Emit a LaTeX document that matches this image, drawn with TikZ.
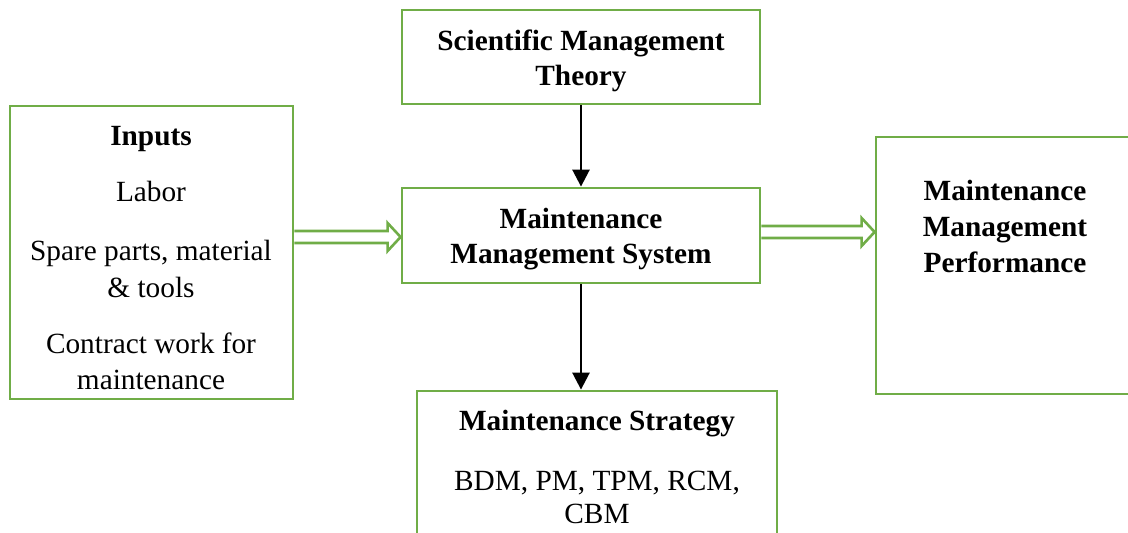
\documentclass[tikz,border=0pt]{standalone}
\usepackage{fontspec}
\setmainfont{Liberation Serif}
\usetikzlibrary{arrows.meta,calc}
\definecolor{boxgreen}{HTML}{70AD47}
\begin{document}
\begin{tikzpicture}[x=1pt,y=-1pt,
  box/.style={draw=boxgreen,line width=2.8pt,rectangle,inner sep=0pt,fill=white},
  txt/.style={anchor=base,inner sep=0pt,font=\fontsize{29.3}{35}\selectfont},
  btxt/.style={txt,font=\fontsize{29.3}{35}\selectfont\bfseries},
  flow/.style={line width=2.6pt,-{Triangle[length=17pt,width=17pt]}},
  hollow/.style={draw=boxgreen,line width=2.6pt,fill=white,line join=miter}]
\useasboundingbox (0,0) rectangle (1128,533);
\clip (0,0) rectangle (1128,533);

% boxes
\node[box,minimum width=358pt,minimum height=94pt] (theory) at (581,57) {};
\node[box,minimum width=283pt,minimum height=293pt] (inputs) at (151.5,252.5) {};
\node[box,minimum width=358pt,minimum height=95pt] (mms) at (581,235.5) {};
\node[box,minimum width=264pt,minimum height=257pt] (perf) at (1008,265.5) {};
\node[box,minimum width=360pt,minimum height=160pt] (strat) at (597,471) {};

% texts
\node[btxt] (t1) at (581,50) {Scientific Management};
\node[btxt] (t2) at (581,85) {Theory};

\node[btxt] (i1) at (151,145) {Inputs};
\node[txt]  (i2) at (151,201) {Labor};
\node[txt]  (i3) at (151,260) {Spare parts, material};
\node[txt]  (i4) at (151,297) {\& tools};
\node[txt]  (i5) at (151,353) {Contract work for};
\node[txt]  (i6) at (151,389) {maintenance};

\node[btxt] (m1) at (581,228) {Maintenance};
\node[btxt] (m2) at (581,263) {Management System};

\node[btxt] (p1) at (1005,200) {Maintenance};
\node[btxt] (p2) at (1005,236) {Management};
\node[btxt] (p3) at (1005,272) {Performance};

\node[btxt] (s1) at (597,430) {Maintenance Strategy};
\node[txt]  (s2) at (597,490) {BDM, PM, TPM, RCM,};
\node[txt]  (s3) at (597,523) {CBM};

% vertical connectors
\draw[flow] (theory.south) -- (mms.north);
\draw[flow] (mms.south) -- (mms.south |- strat.north);

% hollow block arrows
\coordinate (a1s) at ($(inputs.east |- mms.west)+(0,1.5)$);
\coordinate (a1e) at ($(mms.west)+(0,1.5)$);
\draw[hollow] ($(a1s)+(0,-6)$) -- ($(a1e)+(-13,-6)$) -- ($(a1e)+(-13,-14)$) -- (a1e)
  -- ($(a1e)+(-13,14)$) -- ($(a1e)+(-13,6)$) -- ($(a1s)+(0,6)$);
\coordinate (a2s) at ($(mms.east)+(0,-3.5)$);
\coordinate (a2e) at ($(perf.west |- mms.east)+(0,-3.5)$);
\draw[hollow] ($(a2s)+(0,-6)$) -- ($(a2e)+(-13,-6)$) -- ($(a2e)+(-13,-14)$) -- (a2e)
  -- ($(a2e)+(-13,14)$) -- ($(a2e)+(-13,6)$) -- ($(a2s)+(0,6)$);
\end{tikzpicture}
\end{document}
